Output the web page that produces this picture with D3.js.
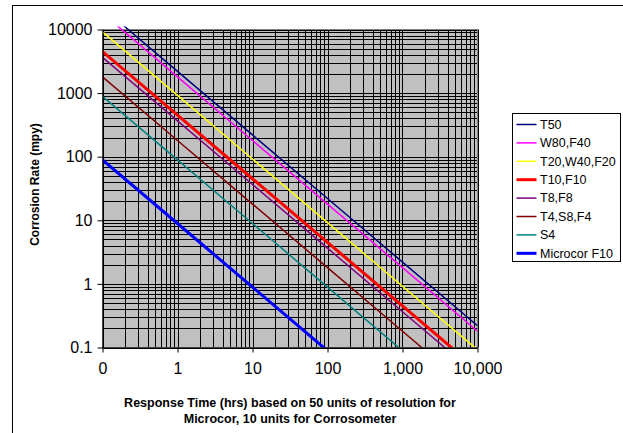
<!DOCTYPE html>
<html>
<head>
<meta charset="utf-8">
<script src="https://cdn.jsdelivr.net/npm/d3@7"></script>
<style>
  body { margin: 0; background: #fff; }
  svg { display: block; font-family: Arial, "Liberation Sans", sans-serif; }
</style>
</head>
<body>
<svg id="chart" width="623" height="433"></svg>
<script>
// response time (hrs) where each series is sampled
var times = [0.1, 1, 10, 100, 1000, 10000];

// corrosion rate (mpy) for each probe type at those times
var seriesNames = ["T50", "W80,F40", "T20,W40,F20", "T10,F10", "T8,F8", "T4,S8,F4", "S4", "Microcor F10"];
var seriesColors = ["#000080", "#ff00ff", "#ffff00", "#ff0000", "#800080", "#800000", "#008080", "#0000ff"];
var seriesWidths = [1.5, 1.5, 1.5, 3, 1.5, 1.5, 1.5, 3];
var rateT50 = [22000, 2200, 220, 22, 2.2, 0.22];
var rateW80 = [18000, 1800, 180, 18, 1.8, 0.18];
var rateT20 = [9200, 920, 92, 9.2, 0.92, 0.092];
var rateT10 = [4500, 450, 45, 4.5, 0.45, 0.045];
var rateT8 = [3650, 365, 36.5, 3.65, 0.365, 0.0365];
var rateT4 = [1800, 180, 18, 1.8, 0.18, 0.018];
var rateS4 = [890, 89, 8.9, 0.89, 0.089, 0.0089];
var rateMicrocor = [89, 8.9, 0.89, 0.089, 0.0089, 0.00089];
var seriesRates = [rateT50, rateW80, rateT20, rateT10, rateT8, rateT4, rateS4, rateMicrocor];

// axis ticks
var xTickValues = [0.1, 1, 10, 100, 1000, 10000];
var xTickLabels = ["0", "1", "10", "100", "1,000", "10,000"];
var yTickValues = [0.1, 1, 10, 100, 1000, 10000];
var yTickLabels = ["0.1", "1", "10", "100", "1000", "10000"];

function drawChart() {
  var svg = d3.select("#chart");

  // plot area
  var pLeft = 102.5, pTop = 29.5, pRight = 477.5, pBottom = 347.5;

  var x = d3.scaleLog().domain([0.1, 10000]).range([pLeft, pRight]);
  var y = d3.scaleLog().domain([0.1, 10000]).range([pBottom, pTop]);

  // outer chart frame (runs off the picture right and bottom)
  svg.append("rect")
      .attr("x", 12.5).attr("y", 5.5)
      .attr("width", 700).attr("height", 500)
      .attr("fill", "none")
      .attr("stroke", "#000")
      .attr("stroke-width", 1);

  svg.append("rect")
      .attr("x", pLeft).attr("y", pTop)
      .attr("width", pRight - pLeft).attr("height", pBottom - pTop)
      .attr("fill", "#c0c0c0");

  // grid lines at every 1..9 of each decade
  var grid = svg.append("g").attr("class", "grid");
  grid.selectAll("line.vx")
    .data(x.ticks())
    .enter().append("line")
      .attr("class", "vx")
      .attr("x1", function(d) { return Math.round(x(d)) + 0.5; })
      .attr("x2", function(d) { return Math.round(x(d)) + 0.5; })
      .attr("y1", pTop).attr("y2", pBottom)
      .attr("stroke", "#000")
      .attr("stroke-width", 1);
  grid.selectAll("line.hy")
    .data(y.ticks())
    .enter().append("line")
      .attr("class", "hy")
      .attr("y1", function(d) { return Math.round(y(d)) + 0.5; })
      .attr("y2", function(d) { return Math.round(y(d)) + 0.5; })
      .attr("x1", pLeft).attr("x2", pRight)
      .attr("stroke", "#000")
      .attr("stroke-width", 1);

  svg.append("rect")
      .attr("x", pLeft).attr("y", pTop)
      .attr("width", pRight - pLeft).attr("height", pBottom - pTop)
      .attr("fill", "none")
      .attr("stroke", "#808080")
      .attr("stroke-width", 1);

  // series lines
  svg.append("clipPath").attr("id", "plotclip")
    .append("rect")
      .attr("x", pLeft).attr("y", pTop - 3)
      .attr("width", pRight - pLeft).attr("height", pBottom - pTop + 3);

  var line = d3.line()
      .x(function(d) { return x(d[0]); })
      .y(function(d) { return y(d[1]); });

  svg.append("g")
      .attr("clip-path", "url(#plotclip)")
    .selectAll("path")
    .data(seriesNames)
    .enter().append("path")
      .attr("d", function(d, i) {
        return line(times.map(function(t, j) { return [t, seriesRates[i][j]]; }));
      })
      .attr("fill", "none")
      .attr("stroke", function(d, i) { return seriesColors[i]; })
      .attr("stroke-width", function(d, i) { return seriesWidths[i]; });

  // axes
  var xAxis = d3.axisBottom(x)
      .tickValues(xTickValues)
      .tickFormat(function(d, i) { return xTickLabels[i]; })
      .tickSizeInner(5).tickSizeOuter(0).tickPadding(10);
  var yAxis = d3.axisLeft(y)
      .tickValues(yTickValues)
      .tickFormat(function(d, i) { return yTickLabels[i]; })
      .tickSizeInner(5).tickSizeOuter(0).tickPadding(5);

  var gx = svg.append("g")
      .attr("transform", "translate(0," + pBottom + ")")
      .call(xAxis);
  var gy = svg.append("g")
      .attr("transform", "translate(" + pLeft + ",0)")
      .call(yAxis);

  [gx, gy].forEach(function(g) {
    g.select(".domain").attr("stroke", "#000");
    g.selectAll(".tick line").attr("stroke", "#000");
    g.selectAll(".tick text")
      .attr("fill", "#000")
      .style("font-size", "16px")
      .style("font-family", "Arial, 'Liberation Sans', sans-serif");
  });

  // axis titles
  svg.append("text")
      .attr("transform", "translate(35," + ((pTop + pBottom) / 2 - 4) + ") rotate(-90)")
      .attr("text-anchor", "middle")
      .attr("dy", "0.35em")
      .style("font-size", "12px")
      .style("font-weight", "bold")
      .text("Corrosion Rate (mpy)");

  var xTitle = svg.append("text")
      .attr("text-anchor", "middle")
      .style("font-size", "12.5px")
      .style("font-weight", "bold");
  xTitle.append("tspan").attr("x", 290).attr("y", 407)
      .text("Response Time (hrs) based on 50 units of resolution for");
  xTitle.append("tspan").attr("x", 290).attr("y", 423)
      .text("Microcor, 10 units for Corrosometer");

  // legend
  var legend = svg.append("g").attr("transform", "translate(512.5,113.5)");
  legend.append("rect")
      .attr("width", 108).attr("height", 148)
      .attr("fill", "#fff")
      .attr("stroke", "#000")
      .attr("stroke-width", 1);

  var item = legend.selectAll("g.item")
    .data(seriesNames)
    .enter().append("g")
      .attr("class", "item")
      .attr("transform", function(d, i) { return "translate(0," + (11 + i * 18.4) + ")"; });
  item.append("line")
      .attr("x1", 4).attr("x2", 24)
      .attr("stroke", function(d, i) { return seriesColors[i]; })
      .attr("stroke-width", function(d, i) { return seriesWidths[i] > 2 ? 3 : 1.5; });
  item.append("text")
      .attr("x", 27.5)
      .attr("dy", "0.35em")
      .style("font-size", "12.5px")
      .text(function(d) { return d; });
}

drawChart();
</script>
</body>
</html>
